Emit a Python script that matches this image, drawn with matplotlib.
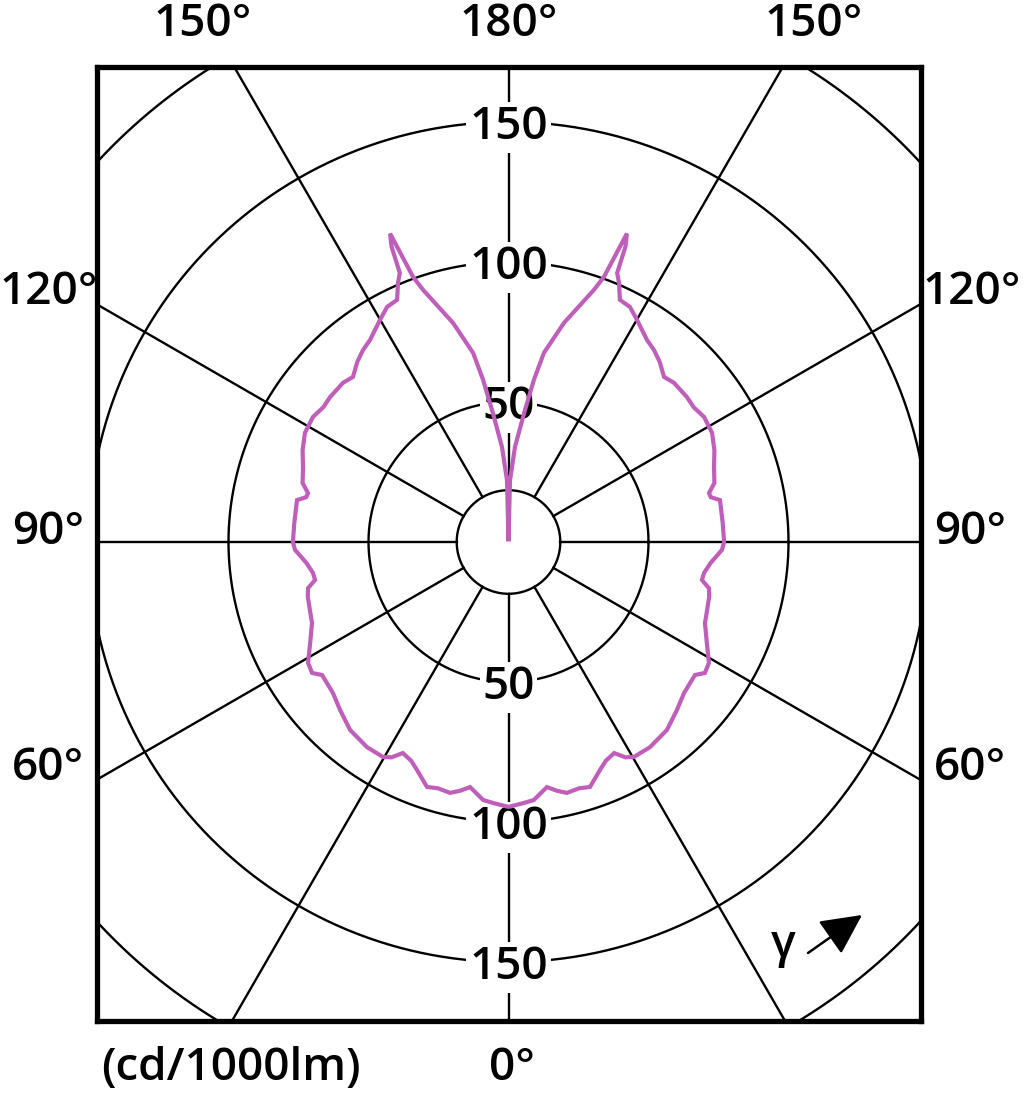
import numpy as np
import matplotlib.pyplot as plt

plt.rcParams['font.family'] = ['Open Sans', 'DejaVu Sans']
plt.rcParams['font.weight'] = 'semibold'

# luminous intensity distribution (cd/1000lm), symmetric about the 0-180 axis
gamma = [0, 3, 5.6, 8.9, 11, 13.1, 16, 18.4, 21.9, 24, 26.6, 28.5, 30.3,
         34.6, 40.1, 45, 49.3, 54.5, 56.3, 58.9, 63, 67.6, 71, 74.7, 77,
         78.9, 81, 84, 87.9, 90, 95, 101.2, 102.5, 103.7, 106, 110, 114,
         118.2, 122.6, 126, 129.1, 133.9, 136.7, 140, 142.8, 145.6, 149.9,
         152.7, 155.3, 156.9, 158.0, 158.4, 159.0, 160.2, 161.3, 165.8,
         169.4, 171.1, 173.1, 176.1, 178.6, 180]
intensity = [94.6, 93.5, 92.6, 88.6, 90.5, 92.0, 91.5, 92.2, 87.7, 85.5,
             84.3, 87.5, 88.9, 89.0, 87.8, 85.0, 82.7, 81.8, 84.3, 83.6,
             79.5, 75.9, 75.0, 74.3, 73.5, 70.4, 70.7, 72.5, 76.3, 77.0,
             76.8, 77.0, 74.0, 73.7, 76.5, 78.1, 80.5, 82.5, 82.9, 81.8,
             82.1, 82.0, 81.0, 84.0, 86.0, 87.5, 91.6, 94.5, 95.2, 100.6,
             103.6, 113.5, 118.0, 100.6, 95.0, 80.7, 68.7, 58.6, 46.4, 34.0,
             22.0, 1.0]

rings = [50, 100, 150, 200]
ring_labels = [50, 100, 150]
inner_ring = 18.5
spokes = np.arange(0, 360, 30)

# outer angle labels: (text, x px, y px)
angle_labels = [('150°', 203, 24), ('180°', 509, 24), ('150°', 814, 24),
                ('120°', 49, 293), ('90°', 48, 532), ('60°', 48, 768),
                ('120°', 972, 293), ('90°', 970, 532), ('60°', 970, 768),
                ('0°', 512, 1069), ('(cd/1000lm)', 231, 1069)]

W, H = 1024, 1096
cx, cy, scale = 508.5, 542, 2.8

fig = plt.figure(figsize=(W / 100, H / 100), dpi=100)
ax = fig.add_axes([97 / W, 1 - 1021 / H, 824 / W, 954 / H])
ax.set_xlim((97 - cx) / scale, (921 - cx) / scale)
ax.set_ylim((cy - 1021) / scale, (cy - 67) / scale)
ax.set_aspect('equal')
ax.set_xticks([])
ax.set_yticks([])
for s in ax.spines.values():
    s.set_linewidth(3.8)
    s.set_zorder(10)

# grid
t = np.linspace(0, 2 * np.pi, 721)
for r in rings + [inner_ring]:
    ax.plot(r * np.cos(t), r * np.sin(t), color='black', lw=1.7, zorder=1)
for a in np.radians(spokes):
    ax.plot([inner_ring * np.sin(a), 300 * np.sin(a)],
            [inner_ring * np.cos(a), 300 * np.cos(a)],
            color='black', lw=1.7, zorder=1)

for r in ring_labels:
    for y in (r, -r):
        ax.text(0, y, str(r), ha='center', va='center_baseline', fontsize=33,
                zorder=3, bbox=dict(fc='white', ec='none', pad=2))

# curve: right half from 180 to 0, then left half from 0 to 180
g = np.radians(gamma)
I = np.array(intensity)
x = np.concatenate([(I * np.sin(g))[::-1], -I * np.sin(g)])
y = np.concatenate([(-I * np.cos(g))[::-1], -I * np.cos(g)])
ax.plot(x, y, color='#bf5fba', lw=3.0, zorder=4, solid_joinstyle='miter')

for txt, px, py in angle_labels:
    fig.text(px / W, 1 - py / H, txt, ha='center', va='center', fontsize=33)

fig.text(783 / W, 1 - 945 / H, 'γ', ha='center', va='center', fontsize=33)
ax.annotate('', xy=(862 / W, 1 - 915 / H), xytext=(808 / W, 1 - 953 / H),
            xycoords='figure fraction', textcoords='figure fraction',
            arrowprops=dict(arrowstyle='-|>,head_length=0.9,head_width=0.45',
                            mutation_scale=28, lw=1.8, color='black',
                            shrinkA=0, shrinkB=0))

fig.savefig('out.png', dpi=100)
